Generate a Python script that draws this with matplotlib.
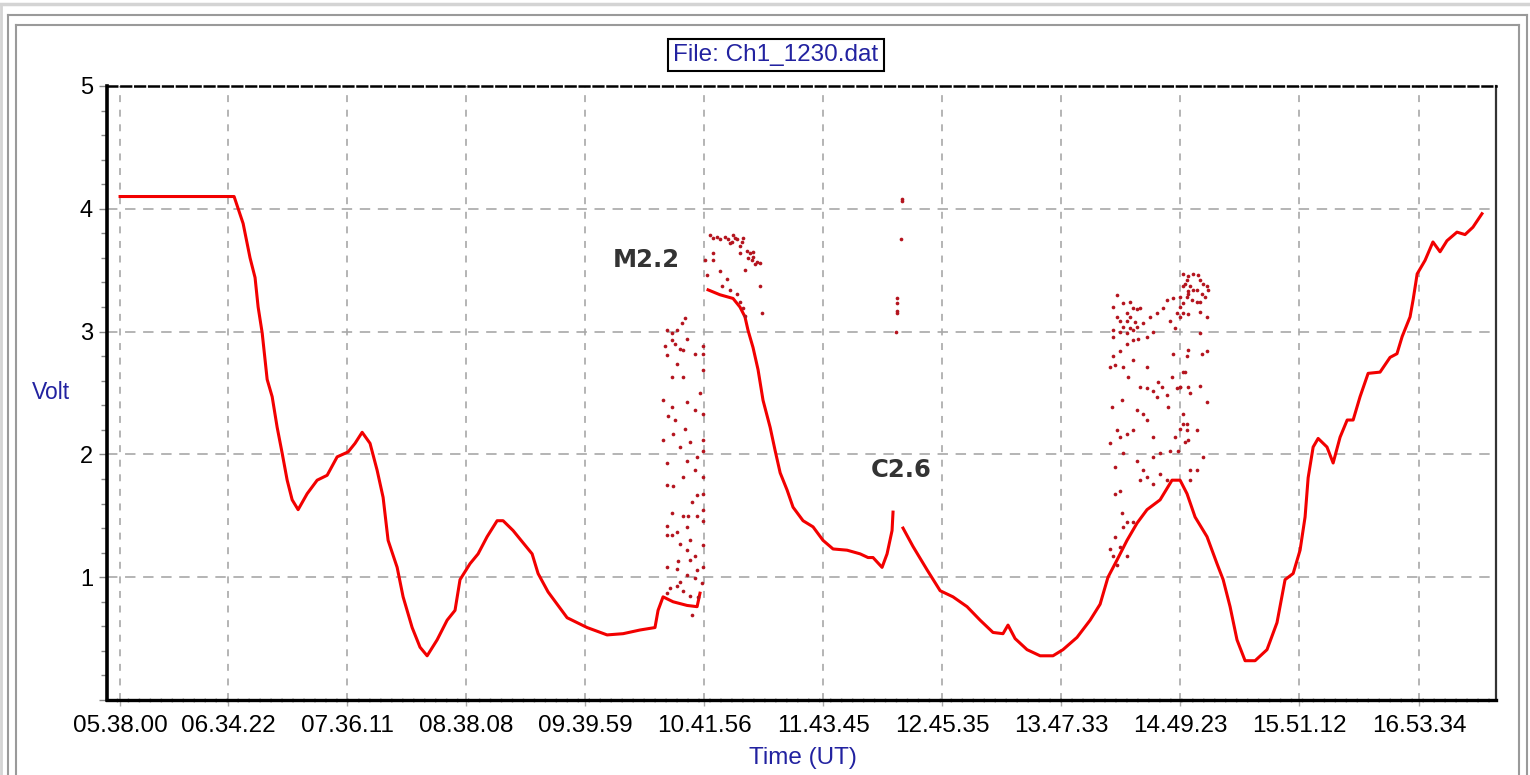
import matplotlib
matplotlib.use("Agg")
import matplotlib.pyplot as plt
from matplotlib.lines import Line2D
from matplotlib.ticker import FixedLocator, MultipleLocator

plt.rcParams['lines.scale_dashes'] = False

# ---------------- data ----------------
x_tick_labels = ["05.38.00", "06.34.22", "07.36.11", "08.38.08", "09.39.59", "10.41.56",
                 "11.43.45", "12.45.35", "13.47.33", "14.49.23", "15.51.12", "16.53.34"]
y_ticks = [0, 1, 2, 3, 4, 5]
y_tick_labels = ["", "1", "2", "3", "4", "5"]

# main trace, time in minutes after 00:00 UT, voltage in Volt
seg1_t = [338.0, 397.3, 402.0, 405.6, 408.2, 409.8, 411.9, 414.5, 417.1, 419.7, 422.3, 424.9,
          427.5, 430.6, 435.3, 440.5, 445.7, 450.9, 456.6, 460.2, 463.9, 468.0, 471.7, 474.8,
          477.4, 482.1, 485.2, 489.9, 494.0, 497.7, 502.9, 508.1, 512.2, 514.8, 520.0, 524.2,
          528.9, 534.1, 537.2, 542.4, 547.6, 552.3, 555.4, 560.6, 570.5, 580.9, 591.3, 599.6,
          608.4, 616.2, 617.8, 620.4, 625.6, 632.9, 638.1, 639.6]
seg1_v = [4.10, 4.10, 3.88, 3.60, 3.44, 3.20, 2.99, 2.61, 2.47, 2.22, 2.01, 1.79,
          1.63, 1.55, 1.68, 1.79, 1.83, 1.98, 2.02, 2.09, 2.18, 2.09, 1.87, 1.65,
          1.30, 1.08, 0.84, 0.59, 0.43, 0.36, 0.49, 0.65, 0.73, 0.98, 1.11, 1.19,
          1.33, 1.46, 1.46, 1.38, 1.28, 1.19, 1.03, 0.88, 0.67, 0.59, 0.53, 0.54,
          0.57, 0.59, 0.73, 0.84, 0.80, 0.77, 0.76, 0.87]

seg2_t = [643.8, 650.0, 656.8, 660.4, 663.0, 664.6, 667.2, 669.8, 672.4, 676.1, 678.7, 681.3,
          684.9, 688.0, 693.2, 698.4, 703.6, 708.8, 716.1, 722.9, 727.0, 729.6, 734.3, 736.9,
          739.5, 740.0]
seg2_v = [3.34, 3.30, 3.27, 3.20, 3.12, 3.01, 2.87, 2.69, 2.44, 2.22, 2.03, 1.85,
          1.71, 1.57, 1.46, 1.41, 1.30, 1.23, 1.22, 1.19, 1.16, 1.16, 1.08, 1.19,
          1.38, 1.53]

seg3_t = [745.2, 750.4, 757.7, 764.5, 771.2, 778.5, 785.3, 792.0, 797.2, 799.8, 803.5, 809.7,
          816.5, 823.2, 828.4, 835.7, 842.5, 847.7, 851.8, 856.5, 861.7, 866.9, 872.1, 878.9,
          885.1, 889.3, 892.9, 897.1, 903.3, 908.5, 911.7, 915.3, 918.9, 923.1, 928.3, 934.5,
          939.7, 943.9, 948.1, 951.7, 954.3, 955.9, 958.5, 961.1, 965.7, 968.9, 972.5, 976.2,
          979.3, 982.9, 987.1, 993.3, 998.5, 1002.1, 1004.8, 1008.9, 1010.5, 1012.6, 1016.7,
          1020.8, 1024.5, 1028.1, 1033.3, 1037.5, 1041.6, 1046.3]
seg3_v = [1.40, 1.25, 1.06, 0.89, 0.84, 0.76, 0.65, 0.55, 0.54, 0.61, 0.50, 0.41,
          0.36, 0.36, 0.41, 0.51, 0.65, 0.78, 1.00, 1.14, 1.30, 1.44, 1.55, 1.63,
          1.79, 1.79, 1.68, 1.49, 1.33, 1.11, 0.98, 0.76, 0.49, 0.32, 0.32, 0.41,
          0.63, 0.98, 1.03, 1.22, 1.49, 1.81, 2.06, 2.13, 2.06, 1.93, 2.14, 2.28,
          2.28, 2.47, 2.66, 2.67, 2.79, 2.82, 2.96, 3.12, 3.26, 3.47, 3.58,
          3.73, 3.65, 3.74, 3.81, 3.79, 3.85, 3.96]

# scattered samples (flare interference)
scat_t = [
    # around 10:20 - 10:42
    631.8, 630.1, 627.5, 624.9, 622.3, 632.7, 621.4, 624.9, 626.6, 629.2, 631.0, 637.0,
    641.4, 641.4, 622.3, 627.5, 624.9, 631.0, 641.4, 639.6, 620.6, 624.9, 632.7, 637.0,
    641.4, 623.2, 626.6, 631.8, 620.6, 625.8, 634.4, 629.2, 641.4, 622.3, 632.7, 637.9,
    641.4, 631.0, 637.0, 641.4, 622.3, 625.8, 637.9, 641.4, 635.3, 624.9, 631.0, 633.6,
    637.9, 641.4, 622.3, 627.5, 632.7, 641.4, 622.3, 624.9, 629.2, 634.4, 632.7, 637.0,
    641.4, 628.4, 634.4, 622.3, 627.5, 632.7, 637.9, 641.4, 629.2, 637.0, 640.5, 624.0,
    627.5, 631.0, 634.4, 638.8, 622.3, 635.3,
    # upper band after 10:42
    644.8, 646.6, 650.0, 652.7, 655.3, 657.0, 658.7, 660.5, 662.2, 663.9, 665.6, 667.4,
    669.1, 670.9, 660.5, 656.1, 642.2, 646.6, 643.1, 646.6, 650.0, 653.5, 650.9, 655.3,
    658.7, 660.5, 662.2, 663.0, 670.9, 671.7, 663.0, 667.4, 664.8, 648.3, 654.4, 661.3,
    666.5, 668.3, 657.9,
    # spike near 12:24
    744.5, 744.5, 744.0, 742.3, 742.3, 742.3, 742.3, 741.6,
    # around 14:12 - 15:04
    856.3, 854.6, 859.8, 863.3, 865.0, 861.5, 866.8, 868.5, 856.3, 858.1, 861.5, 863.3,
    865.9, 859.8, 863.3, 866.8, 870.2, 854.6, 858.1, 861.5, 865.0, 854.6, 873.7, 877.2,
    880.6, 882.4, 885.8, 889.3, 891.0, 892.7, 893.6, 887.6, 884.1, 889.3, 886.7, 875.4,
    871.9, 867.6, 865.0, 861.5, 858.1, 854.6, 852.9, 855.5, 859.8, 862.4, 865.0, 871.9,
    885.8, 891.9, 893.6, 868.5, 871.9, 875.4, 878.0, 879.8, 882.4, 885.0, 887.6, 889.3,
    893.6, 853.7, 859.0, 866.8, 870.2, 871.9, 877.2, 883.2, 891.0, 892.7, 856.3, 858.1,
    861.5, 865.0, 875.4, 886.7, 889.3, 852.9, 859.8, 855.5, 866.8, 870.2, 875.4, 878.9,
    884.1, 888.4, 893.6, 855.5, 858.1, 868.5, 871.9, 875.4, 878.9, 882.4, 859.0, 861.5,
    865.0, 859.8, 855.5, 852.9, 858.1, 854.6, 861.5, 856.3,
    891.0, 893.6, 896.2, 898.8, 899.7, 901.4, 903.1, 904.0, 891.9, 894.5, 898.0, 900.5,
    902.3, 892.7, 895.4, 898.0, 891.0, 893.6, 896.2, 899.7, 889.3, 891.0, 893.6, 899.7,
    903.1, 899.7, 900.5, 903.1, 892.7, 891.0, 889.3, 894.5, 899.7, 903.1, 891.0, 892.7,
    898.0, 891.9, 901.4, 894.5, 898.0, 894.5]
scat_v = [
    3.11, 3.07, 3.01, 2.99, 3.01, 2.94, 2.88, 2.93, 2.90, 2.86, 2.85, 2.82,
    2.88, 2.82, 2.81, 2.74, 2.63, 2.63, 2.69, 2.50, 2.44, 2.39, 2.43, 2.36,
    2.33, 2.31, 2.28, 2.21, 2.12, 2.17, 2.10, 2.06, 2.12, 1.93, 1.95, 1.98,
    2.03, 1.82, 1.87, 1.82, 1.75, 1.74, 1.67, 1.68, 1.61, 1.52, 1.50, 1.50,
    1.50, 1.55, 1.42, 1.37, 1.41, 1.46, 1.34, 1.34, 1.27, 1.30, 1.22, 1.17,
    1.26, 1.13, 1.14, 1.08, 1.07, 1.02, 1.06, 1.08, 0.96, 0.99, 0.95, 0.91,
    0.93, 0.89, 0.85, 0.84, 0.87, 0.69,
    3.79, 3.76, 3.75, 3.77, 3.72, 3.79, 3.75, 3.70, 3.76, 3.66, 3.64, 3.61,
    3.57, 3.56, 3.64, 3.73, 3.58, 3.58, 3.46, 3.64, 3.49, 3.43, 3.37, 3.34,
    3.31, 3.24, 3.19, 3.13, 3.37, 3.15, 3.50, 3.65, 3.60, 3.77, 3.75, 3.73,
    3.58, 3.55, 3.76,
    4.08, 4.06, 3.75, 3.27, 3.23, 3.17, 3.15, 3.00,
    3.30, 3.20, 3.23, 3.24, 3.19, 3.15, 3.18, 3.19, 3.12, 3.09, 3.09, 3.12,
    3.08, 3.04, 3.03, 3.04, 3.07, 3.01, 3.00, 2.99, 3.01, 2.96, 3.12, 3.15,
    3.19, 3.26, 3.27, 3.28, 3.37, 3.42, 3.31, 3.15, 3.09, 3.12, 3.03, 3.00,
    2.96, 2.94, 2.93, 2.90, 2.84, 2.80, 2.71, 2.73, 2.71, 2.63, 2.77, 2.71,
    2.82, 2.67, 2.85, 2.55, 2.54, 2.52, 2.59, 2.55, 2.48, 2.63, 2.54, 2.55,
    2.55, 2.39, 2.44, 2.36, 2.33, 2.28, 2.47, 2.39, 2.33, 2.25, 2.20, 2.14,
    2.17, 2.20, 2.14, 2.14, 2.21, 2.09, 2.01, 1.90, 1.95, 1.87, 1.98, 2.01,
    2.03, 2.03, 2.12, 1.68, 1.70, 1.79, 1.82, 1.76, 1.84, 1.79, 1.52, 1.45,
    1.45, 1.41, 1.33, 1.23, 1.25, 1.17, 1.17, 1.10,
    3.47, 3.45, 3.47, 3.46, 3.42, 3.39, 3.37, 3.34, 3.39, 3.37, 3.34, 3.31,
    3.28, 3.28, 3.26, 3.24, 3.23, 3.33, 3.34, 3.24, 3.20, 3.15, 3.14, 3.16,
    3.12, 2.99, 2.82, 2.84, 2.80, 2.67, 2.55, 2.50, 2.56, 2.43, 2.25, 2.20,
    2.20, 2.10, 1.98, 1.87, 1.87, 1.79]

annotations = [("M2.2", 611.6, 3.58), ("C2.6", 744.2, 1.87)]
title_text = "File: Ch1_1230.dat"
x_label = "Time (UT)"
y_label = "Volt"


def to_minutes(label):
    h, m, s = label.split(".")
    return int(h) * 60 + int(m) + int(s) / 60.0


x_ticks = [to_minutes(l) for l in x_tick_labels]

# ---------------- figure ----------------
W, H = 1530, 775
fig = plt.figure(figsize=(W / 100, H / 100), dpi=100)
fig.patch.set_facecolor("white")


def fx(px):
    return px / W


def fy(py):
    return 1 - py / H


# window frame
frame_col = "#9a9a9a"
fig.add_artist(Line2D([0, 1], [fy(4), fy(4)], color="#d4d4d4", lw=2.5))
fig.add_artist(Line2D([fx(1), fx(1)], [0, fy(4)], color="#d4d4d4", lw=2.0))
fig.add_artist(Line2D([fx(8), fx(1527)], [fy(15), fy(15)], color=frame_col, lw=1.5))
fig.add_artist(Line2D([fx(8), fx(8)], [0, fy(15)], color=frame_col, lw=1.5))
fig.add_artist(Line2D([fx(1527), fx(1527)], [0, fy(15)], color=frame_col, lw=1.5))
fig.add_artist(Line2D([fx(16), fx(1519)], [fy(25), fy(25)], color=frame_col, lw=1.5))
fig.add_artist(Line2D([fx(16), fx(16)], [0, fy(25)], color=frame_col, lw=1.5))
fig.add_artist(Line2D([fx(1519), fx(1519)], [0, fy(25)], color=frame_col, lw=1.5))

ax = fig.add_axes([fx(107), fy(700), fx(1496) - fx(107), fy(86) - fy(700)])
ax.set_facecolor("white")

grid_col = "#a8a8a8"
for xt in x_ticks:
    ax.axvline(xt, color=grid_col, lw=1.2, linestyle=(0, (5.0, 5.5)), zorder=1)
for yt in y_ticks[1:-1]:
    ax.axhline(yt, color=grid_col, lw=1.2, linestyle=(0, (7.5, 5.5)), zorder=1)

red = "#f20000"
for t, v in ((seg1_t, seg1_v), (seg2_t, seg2_v), (seg3_t, seg3_v)):
    ax.plot(t, v, color=red, lw=2.2, solid_joinstyle="round", zorder=3)
ax.scatter(scat_t, scat_v, s=7, color="#b4141e", linewidths=0, zorder=4)

ax.set_xlim(331.2, 1053.6)
ax.set_ylim(0, 5)

ax.xaxis.set_major_locator(FixedLocator(x_ticks))
ax.set_xticklabels(x_tick_labels, family=["Liberation Sans", "DejaVu Sans"],
                   fontsize=17.5, color="black")
ax.yaxis.set_major_locator(FixedLocator(y_ticks))
ax.set_yticklabels(y_tick_labels, family=["Liberation Sans", "DejaVu Sans"],
                   fontsize=17, color="black")
ax.yaxis.set_minor_locator(MultipleLocator(0.2))
ax.tick_params(axis="y", which="major", length=6, width=1.0, color="#888888", pad=4)
ax.tick_params(axis="y", which="minor", length=4, width=1.0, color="#888888")
ax.tick_params(axis="x", which="major", length=4, width=1.0, color="#aaaaaa", pad=7)

for side in ("left", "right", "top", "bottom"):
    ax.spines[side].set_zorder(5)
ax.spines["left"].set_linewidth(2.6)
ax.spines["left"].set_color("black")
ax.spines["bottom"].set_linewidth(2.4)
ax.spines["bottom"].set_color("black")
ax.spines["bottom"].set_linestyle((0, (6.5, 1.4)))
ax.spines["top"].set_linewidth(1.8)
ax.spines["top"].set_color("black")
ax.spines["top"].set_linestyle((0, (7.0, 3.0)))
ax.spines["right"].set_linewidth(1.6)
ax.spines["right"].set_color("#333333")

for txt, t, v in annotations:
    ax.text(t, v, txt, fontsize=17.5, fontweight="bold", color="#333333",
            family="DejaVu Sans", ha="center", va="center", zorder=6)

fig.text(fx(776), fy(55), title_text, fontsize=17.5, color="#2222a0",
         family=["Liberation Sans", "DejaVu Sans"], ha="center", va="center",
         bbox=dict(boxstyle="square,pad=0.22", fc="white", ec="black", lw=1.5))
fig.text(fx(51), fy(392), y_label, fontsize=16.5, color="#2222a0",
         family=["Liberation Sans", "DejaVu Sans"], ha="center", va="center")
fig.text(fx(803), fy(758), x_label, fontsize=17.5, color="#2222a0",
         family=["Liberation Sans", "DejaVu Sans"], ha="center", va="center")

fig.savefig("out.png", dpi=100, facecolor="white")
